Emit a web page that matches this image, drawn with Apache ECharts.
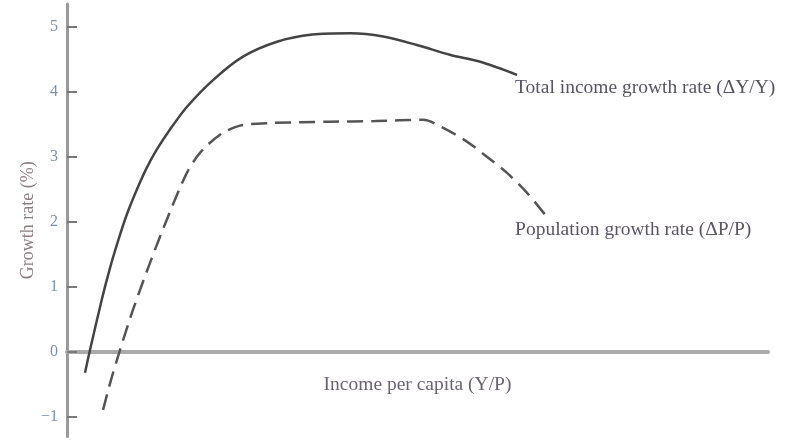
<!DOCTYPE html>
<html>
<head>
<meta charset="utf-8">
<script src="https://cdn.jsdelivr.net/npm/echarts@6/dist/echarts.min.js"></script>
<style>html,body{margin:0;padding:0;background:#fff;}#c{width:800px;height:447px;}</style>
</head>
<body>
<div id="c"></div>
<script>
// Income per capita (arbitrary units) and growth rates (%)
const totalX = [2.57, 3.28, 4.95, 6.13, 7.32, 8.52, 9.94, 11.37, 12.8, 14.69, 17.12, 20.83, 25.1, 29.96, 35.0, 40.5, 45.1, 49.9, 54.6, 59.3, 64.2];
const totalY = [-0.32, 0.03, 0.8, 1.29, 1.72, 2.11, 2.49, 2.83, 3.11, 3.42, 3.77, 4.18, 4.54, 4.77, 4.88, 4.9, 4.85, 4.72, 4.57, 4.45, 4.26];
const popX = [5.14, 6.28, 7.56, 9.42, 11.84, 14.41, 17.08, 18.97, 21.83, 24.68, 28.96, 37.5, 44.0, 50.8, 53.6, 57.1, 59.9, 62.8, 65.6, 68.2];
const popY = [-0.89, -0.43, 0.03, 0.65, 1.37, 2.08, 2.75, 3.06, 3.34, 3.48, 3.52, 3.54, 3.55, 3.57, 3.45, 3.23, 3.0, 2.75, 2.45, 2.11];
const yTicks = [-1, 0, 1, 2, 3, 4, 5];
const totalLabel = 'Total income growth rate (ΔY/Y)';
const popLabel = 'Population growth rate (ΔP/P)';
const xName = 'Income per capita (Y/P)';
const yName = 'Growth rate (%)';

const serif = '"Liberation Serif", "DejaVu Serif", serif';
const chart = echarts.init(document.getElementById('c'), null, {renderer: 'canvas'});
chart.setOption({
  backgroundColor: '#fff',
  animation: false,
  grid: {left: 67, right: 32, top: 4, bottom: 10.5, containLabel: false, outerBoundsMode: 'none'},
  xAxis: {
    type: 'value', min: 0, max: 100,
    name: xName, nameLocation: 'middle', nameGap: -62,
    nameTextStyle: {fontFamily: serif, fontSize: 19.5, color: '#6b6470'},
    axisLine: {onZero: true, lineStyle: {color: '#aaaaaa', width: 4}},
    axisTick: {show: false}, axisLabel: {show: false}, splitLine: {show: false}
  },
  yAxis: {
    type: 'value', min: -1.3, max: 5.35,
    name: yName, nameLocation: 'middle', nameGap: 30, nameRotate: 90, nameMoveOverlap: false,
    nameTextStyle: {fontFamily: serif, fontSize: 18, color: '#8a7f80'},
    axisLine: {show: true, lineStyle: {color: '#999999', width: 3}},
    axisTick: {show: true, inside: true, length: 10, customValues: yTicks, lineStyle: {color: '#777777', width: 2}},
    axisLabel: {show: true, customValues: yTicks, margin: 9, fontFamily: serif, fontSize: 16, color: '#8090a8',
      formatter: v => (v < 0 ? '\u2212' + Math.abs(v) : String(v))},
    splitLine: {show: false}
  },
  series: [
    {
      type: 'line', data: totalX.map((x, i) => [x, totalY[i]]), smooth: 0.3, symbol: 'none',
      lineStyle: {color: '#444444', width: 2.5},
      endLabel: {show: true, formatter: totalLabel, offset: [-10, 13], fontFamily: serif, fontSize: 19.5, color: '#555560'}
    },
    {
      type: 'line', data: popX.map((x, i) => [x, popY[i]]), smooth: 0.3, symbol: 'none',
      lineStyle: {color: '#555555', width: 2.5, type: [16, 8]},
      endLabel: {show: true, formatter: popLabel, offset: [-38, 15], fontFamily: serif, fontSize: 19.5, color: '#5a5560'}
    }
  ]
});
</script>
</body>
</html>
